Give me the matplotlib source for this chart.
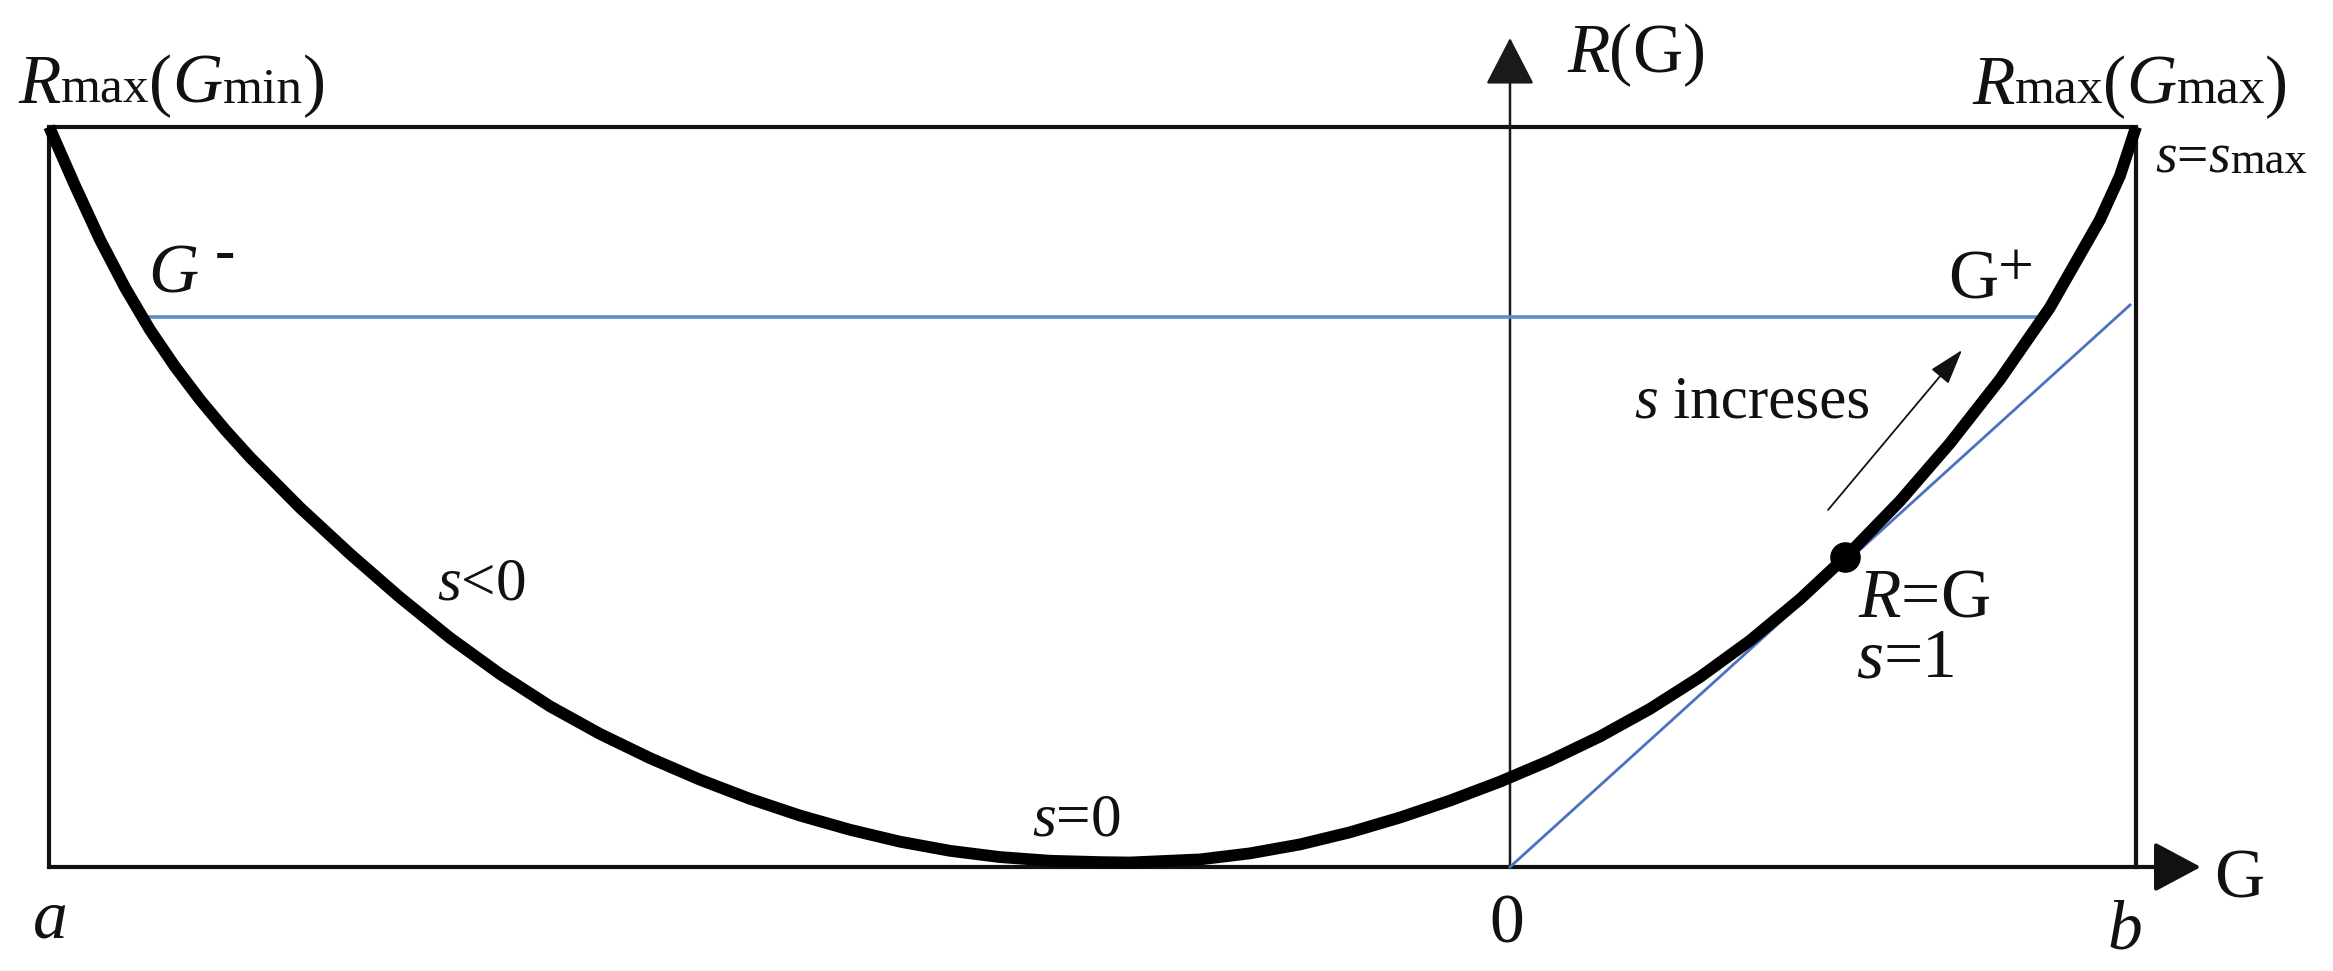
import matplotlib
matplotlib.use("Agg")
import matplotlib.pyplot as plt
from matplotlib.transforms import IdentityTransform

# ---------------- data ----------------
G_a, G_b = -7.0, 3.0           # interval [a, b]
R_max = 3.80                   # R_max level (top of box)
G_axis_tip = 3.31              # end of the G arrow
R_axis_tip = 4.256             # end of the R(G) arrow

G_curve = [-7.000, -6.876, -6.756, -6.636, -6.517, -6.397, -6.277, -6.157,
           -6.037, -5.798, -5.558, -5.319, -5.079, -4.840, -4.600, -4.360,
           -4.121, -3.881, -3.642, -3.402, -3.162, -2.923, -2.683, -2.444,
           -2.204, -1.965, -1.821, -1.485, -1.246, -1.006, -0.767, -0.527,
           -0.287, -0.048, 0.192, 0.431, 0.671, 0.910, 1.150, 1.390,
           1.629, 1.869, 2.108, 2.348, 2.587, 2.827, 2.923, 3.000]
R_curve = [3.800, 3.498, 3.220, 2.974, 2.758, 2.569, 2.399, 2.245,
           2.103, 1.845, 1.607, 1.384, 1.176, 0.991, 0.825, 0.683,
           0.559, 0.448, 0.350, 0.264, 0.191, 0.130, 0.083, 0.051,
           0.032, 0.025, 0.023, 0.039, 0.070, 0.116, 0.178, 0.254,
           0.341, 0.438, 0.547, 0.670, 0.812, 0.975, 1.162, 1.375,
           1.614, 1.879, 2.175, 2.503, 2.872, 3.323, 3.549, 3.800]

G_minus, G_plus, R_level = -6.553, 2.555, 2.823      # horizontal blue line
tangent_G = [0.0, 2.971]                              # R = G line
tangent_R = [0.0, 2.885]
G_touch, R_touch = 1.605, 1.590                       # R = G point, s = 1
s_arrow_from = (1.524, 1.833)
s_arrow_to = (2.166, 2.654)

# ---------------- figure ----------------
W, H, DPI = 2333, 971, 100
fig = plt.figure(figsize=(W / DPI, H / DPI), dpi=DPI)
ax = fig.add_axes([0, 0, 1, 1])
ax.set_xlim(-7.2353, 3.9435)
ax.set_ylim(-0.5339, 4.4507)
ax.axis("off")

FONT = "Liberation Serif"
INK = "#111111"

# box
ax.plot([G_a, G_a, G_b, G_b], [0, R_max, R_max, 0], color=INK, lw=3.0,
        solid_joinstyle="miter", zorder=2)

# G axis (bottom) with arrow
ax.annotate("", xy=(G_axis_tip, 0), xytext=(G_a, 0),
            arrowprops=dict(arrowstyle="-|>,head_length=29,head_width=15.5",
                            mutation_scale=1, lw=3.0, color=INK,
                            shrinkA=0, shrinkB=0), zorder=2)
# R axis (vertical) with arrow
ax.annotate("", xy=(0, R_axis_tip), xytext=(0, 0),
            arrowprops=dict(arrowstyle="-|>,head_length=30,head_width=15.5",
                            mutation_scale=1, lw=1.8, color="#1a1a1a",
                            shrinkA=0, shrinkB=0), zorder=2)

# blue lines
ax.plot([G_minus, G_plus], [R_level, R_level], color="#5b8fc7", lw=2.6, zorder=3)
ax.plot(tangent_G, tangent_R, color="#4a72c0", lw=2.0, zorder=3)

# main curve
ax.plot(G_curve, R_curve, color="black", lw=8.5, solid_capstyle="butt",
        solid_joinstyle="round", zorder=4)

# tangency point
ax.plot([G_touch], [R_touch], "o", color="black", ms=21, zorder=5)

# s increases arrow
ax.annotate("", xy=s_arrow_to, xytext=s_arrow_from,
            arrowprops=dict(arrowstyle="-|>,head_length=22,head_width=7",
                            mutation_scale=1, lw=1.3, color=INK,
                            shrinkA=0, shrinkB=0), zorder=5)

# ---------------- rich text helper ----------------
fig.canvas.draw()
renderer = fig.canvas.get_renderer()


def rich(x, y, pieces, ha="left"):
    """pieces: (text, size, style, dx_px, dy_px, weight)"""
    X0, Y0 = ax.transData.transform((x, y))
    items = []
    cur = 0.0
    for p in pieces:
        s, size, style = p[0], p[1], p[2]
        dx = p[3] if len(p) > 3 else 0
        dy = p[4] if len(p) > 4 else 0
        wt = p[5] if len(p) > 5 else "normal"
        t = ax.text(0, 0, s, fontsize=size, fontstyle=style, fontweight=wt,
                    family=FONT, color=INK, transform=IdentityTransform(),
                    ha="left", va="baseline", zorder=6)
        w = t.get_window_extent(renderer=renderer).width
        items.append((t, cur + dx, dy))
        cur += dx + w
    shift = 0.0 if ha == "left" else (-cur / 2 if ha == "center" else -cur)
    for t, ox, dy in items:
        t.set_position((X0 + ox + shift, Y0 + dy))


BIG, SUB, MID = 50, 37, 44

rich(-7.149, 3.922, [("R", BIG, "italic"), ("max", SUB, "normal"),
                     ("(", BIG, "normal"), ("G", BIG, "italic"),
                     ("min", SUB, "normal"), (")", BIG, "normal")])
rich(2.214, 3.917, [("R", BIG, "italic"), ("max", SUB, "normal"),
                    ("(", BIG, "normal"), ("G", BIG, "italic"),
                    ("max", SUB, "normal"), (")", BIG, "normal")])
rich(3.091, 3.563, [("s", 40, "italic"), ("=", 40, "normal"),
                    ("s", 40, "italic"), ("max", 32, "normal")])
rich(0.273, 4.081, [("R", BIG, "italic"), ("(", BIG, "normal"),
                    ("G", BIG, "normal"), (")", BIG, "normal")])
rich(-6.526, 2.947, [("G", BIG, "italic"), ("-", 44, "normal", 16, 23, "bold")])
rich(2.099, 2.916, [("G", BIG, "normal"), ("+", 46, "normal", 0, 13)])
rich(1.725, 2.310, [("s", MID, "italic"), (" increses", MID, "normal")], ha="right")
rich(1.667, 1.283, [("R", BIG, "italic"), ("=", BIG, "normal"), ("G", BIG, "normal")])
rich(1.658, 0.975, [("s", BIG, "italic"), ("=", BIG, "normal"), ("1", BIG, "normal")])
rich(-5.141, 1.371, [("s", MID, "italic"), ("<", MID, "normal"), ("0", MID, "normal")])
rich(-2.290, 0.164, [("s", MID, "italic"), ("=", MID, "normal"), ("0", MID, "normal")])
rich(-7.077, -0.364, [("a", BIG, "italic")])
rich(-0.014, -0.390, [("0", BIG, "normal")], ha="center")
rich(2.861, -0.416, [("b", BIG, "italic")])
rich(3.375, -0.159, [("G", BIG, "normal")])

fig.savefig("out.png", dpi=DPI, facecolor="white")
